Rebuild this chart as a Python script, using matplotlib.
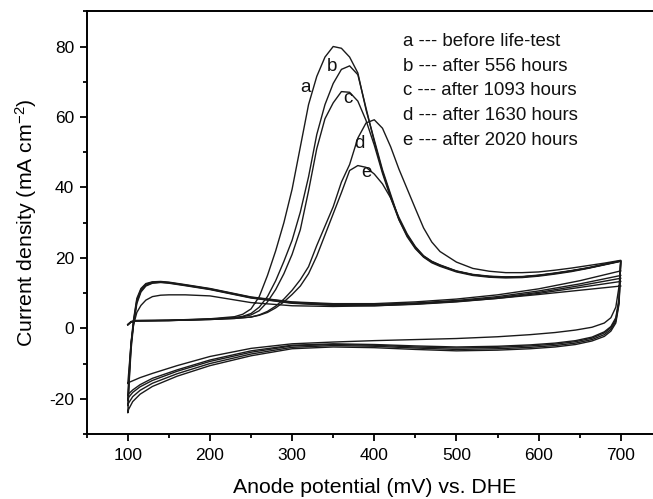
import matplotlib
matplotlib.use('Agg')
import matplotlib.pyplot as plt
from matplotlib.ticker import MultipleLocator

plt.rcParams['font.family'] = ['Liberation Sans', 'DejaVu Sans']
plt.rcParams['mathtext.default'] = 'regular'
plt.rcParams['axes.unicode_minus'] = False

# -----------------------------------------------------------------------------
# first anodic sweep (with the oxidation peak), mV
x_scan1 = [100, 104, 110, 150, 200, 230, 240,
           250, 260, 270, 280, 290, 300, 310, 320, 330, 340, 350, 360,
           370, 380, 390, 400, 410, 420, 430, 440, 450, 460, 470, 480,
           500, 520, 540, 560, 580, 600, 620, 640, 660, 680, 700]

scan1_a = [1.0, 1.9, 2.2, 2.3, 2.7, 3.3, 4.0,
           5.5, 9.0, 15, 22, 30, 39.5, 51.5, 63.5, 71.5, 77, 80, 79.5,
           77, 72.5, 62, 53.5, 45, 38, 31, 26.5, 23, 20.5, 19, 18,
           16.3, 15.3, 14.8, 14.6, 14.7, 15.1, 15.7, 16.4, 17.2, 18.2, 19.2]
scan1_b = [1.0, 1.8, 2.1, 2.2, 2.6, 3.0, 3.4,
           4.2, 6.0, 9.0, 13.5, 19, 25, 33, 43, 55, 63.5, 69.5, 73.5,
           74.5, 72, 62.5, 53, 44.5, 37.5, 31, 26.3, 22.8, 20.3, 18.8, 17.8,
           16.2, 15.2, 14.7, 14.5, 14.6, 15.0, 15.6, 16.3, 17.1, 18.1, 19.1]
scan1_c = [1.1, 1.9, 2.2, 2.3, 2.6, 3.0, 3.3,
           3.8, 5.0, 7.5, 11, 15.5, 21, 28, 39, 51, 59.5, 64, 67.2,
           67, 64.5, 59, 52, 44, 37, 30.8, 26, 22.6, 20.2, 18.6, 17.6,
           16.0, 15.0, 14.5, 14.3, 14.4, 14.8, 15.4, 16.1, 17.0, 18.0, 19.0]
scan1_d = [1.0, 1.8, 2.1, 2.2, 2.5, 2.8, 3.0,
           3.2, 3.8, 4.8, 6.3, 8.3, 10.8, 13.8, 17.5, 23.5, 29, 34.5, 41.5,
           46.5, 54, 58.3, 59.2, 56.8, 51.5, 45.2, 39.6, 34, 28.5, 24.5, 21.8,
           18.8, 17.0, 16.2, 15.8, 15.8, 16.0, 16.5, 17.1, 17.8, 18.5, 19.3]
scan1_e = [1.0, 1.8, 2.1, 2.2, 2.5, 2.8, 3.0,
           3.2, 3.7, 4.5, 5.8, 7.5, 9.6, 12, 15.5, 20.5, 26.5, 32.5, 38.5,
           44.8, 46.2, 45.7, 43.8, 41, 37, 31.5, 26.8, 23.2, 20.6, 19, 17.9,
           16.2, 15.2, 14.7, 14.5, 14.6, 15.0, 15.6, 16.3, 17.1, 18.1, 19.1]

# cathodic sweep back to 100 mV
x_rev = [700, 698, 694, 688, 680, 665, 645, 620, 590, 550, 500, 450,
         400, 350, 300, 250, 200, 160, 130, 115, 106, 101, 100]

rev_a = [19.2, 12, 6, 3, 1.5, 0.3, -0.5, -1.2, -1.8, -2.4, -2.9, -3.2,
         -3.5, -3.9, -4.4, -5.7, -8.0, -10.6, -12.8, -14.0, -14.9, -15.4, -15.7]
rev_b = [19.1, 8, 2.5, 0.2, -1.3, -2.8, -3.8, -4.5, -5.0, -5.4, -5.6, -5.3,
         -4.8, -4.6, -5.0, -6.8, -9.4, -12.2, -14.8, -16.6, -18.2, -19.6, -20.5]
rev_c = [19.0, 7.5, 2, -0.3, -1.8, -3.2, -4.2, -4.9, -5.4, -5.8, -6.0, -5.6,
         -5.1, -4.9, -5.4, -7.3, -10.0, -12.9, -15.6, -17.6, -19.4, -21.2, -22.0]
rev_d = [19.3, 8.5, 3, 0.5, -1.0, -2.5, -3.5, -4.2, -4.7, -5.1, -5.3, -5.0,
         -4.6, -4.4, -4.8, -6.4, -9.0, -11.8, -14.2, -16.0, -17.5, -18.6, -19.2]
rev_e = [19.1, 7, 1.5, -0.8, -2.3, -3.6, -4.6, -5.3, -5.8, -6.2, -6.4, -6.0,
         -5.5, -5.3, -5.8, -7.8, -10.6, -13.6, -16.5, -18.7, -20.8, -23.0, -24.0]

# second anodic sweep (no peak)
x_scan2 = [100, 102, 104, 107, 111, 116, 122, 130, 140, 150, 170, 200,
           250, 300, 350, 400, 450, 500, 550, 600, 650, 700]

scan2_a = [-15.7, -10, -4, 1, 4.5, 6.5, 8, 9, 9.4, 9.5, 9.5, 9.2,
           7.3, 6.4, 6.2, 6.4, 6.9, 7.6, 8.5, 9.6, 10.8, 12.0]
scan2_b = [-20.5, -12, -4.5, 2, 8, 11, 12.5, 13.1, 13.2, 13.0, 12.3, 11.2,
           8.8, 7.4, 6.8, 6.8, 7.2, 7.9, 9.0, 10.6, 12.6, 15.0]
scan2_c = [-22.0, -13, -5, 1.5, 7.5, 10.6, 12.2, 12.9, 13.1, 12.9, 12.2, 11.1,
           8.7, 7.2, 6.6, 6.6, 7.0, 7.7, 8.7, 10.2, 12.1, 14.2]
scan2_d = [-19.2, -11, -4, 2.5, 8.5, 11.3, 12.7, 13.2, 13.3, 13.1, 12.4, 11.3,
           8.9, 7.5, 7.0, 7.0, 7.5, 8.3, 9.5, 11.2, 13.5, 16.3]
scan2_e = [-24.0, -14, -6, 1, 7, 10.3, 12.0, 12.8, 13.0, 12.8, 12.1, 11.0,
           8.6, 7.1, 6.5, 6.4, 6.8, 7.5, 8.5, 9.9, 11.6, 13.3]

curve_names = ['a', 'b', 'c', 'd', 'e']
legend_lines = ['a --- before life-test',
                'b --- after 556 hours',
                'c --- after 1093 hours',
                'd --- after 1630 hours',
                'e --- after 2020 hours']
# where the letters sit on the curves (mV, mA cm-2)
label_x = [316, 348, 368.5, 382, 390]
label_y = [68.4, 74.3, 65.2, 52.4, 44.3]

scan1 = [scan1_a, scan1_b, scan1_c, scan1_d, scan1_e]
rev = [rev_a, rev_b, rev_c, rev_d, rev_e]
scan2 = [scan2_a, scan2_b, scan2_c, scan2_d, scan2_e]

# -----------------------------------------------------------------------------

fig = plt.figure(figsize=(6.53, 4.99), dpi=100)
ax = fig.add_axes([0.1328, 0.1303, 0.8807, 0.8471])

line_color = '#1a1a1a'
for s1, r, s2 in zip(scan1, rev, scan2):
    xs = x_scan1 + x_rev + x_scan2
    ys = s1 + r + s2
    ax.plot(xs, ys, color=line_color, lw=1.0)

for name, lx, ly in zip(curve_names, label_x, label_y):
    ax.text(lx, ly, name, fontsize=13.5, ha='center', va='center',
            color='#111111')

for i, txt in enumerate(legend_lines):
    ax.text(0.55, 0.928 - i * 0.0582, txt, transform=ax.transAxes,
            fontsize=13.4, ha='left', va='center', color='#111111')

ax.set_xlim(50, 750)
ax.set_ylim(-30, 90)
ax.xaxis.set_minor_locator(MultipleLocator(50))
ax.yaxis.set_minor_locator(MultipleLocator(10))
ax.set_xticks([100, 200, 300, 400, 500, 600, 700])
ax.set_yticks([-20, 0, 20, 40, 60, 80])

for sp in ax.spines.values():
    sp.set_linewidth(1.4)
ax.tick_params(which='major', direction='out', length=5, width=1.3,
               labelsize=12.5, pad=4)
ax.tick_params(axis='x', which='major', pad=5)
ax.tick_params(which='minor', direction='out', length=3, width=1.3)

ax.set_xlabel('Anode potential (mV) vs. DHE', fontsize=15.3, labelpad=11)
ax.set_ylabel('Current density (mA cm$^{-2}$)', fontsize=15.3, labelpad=7)

plt.savefig('out.png', dpi=100)
